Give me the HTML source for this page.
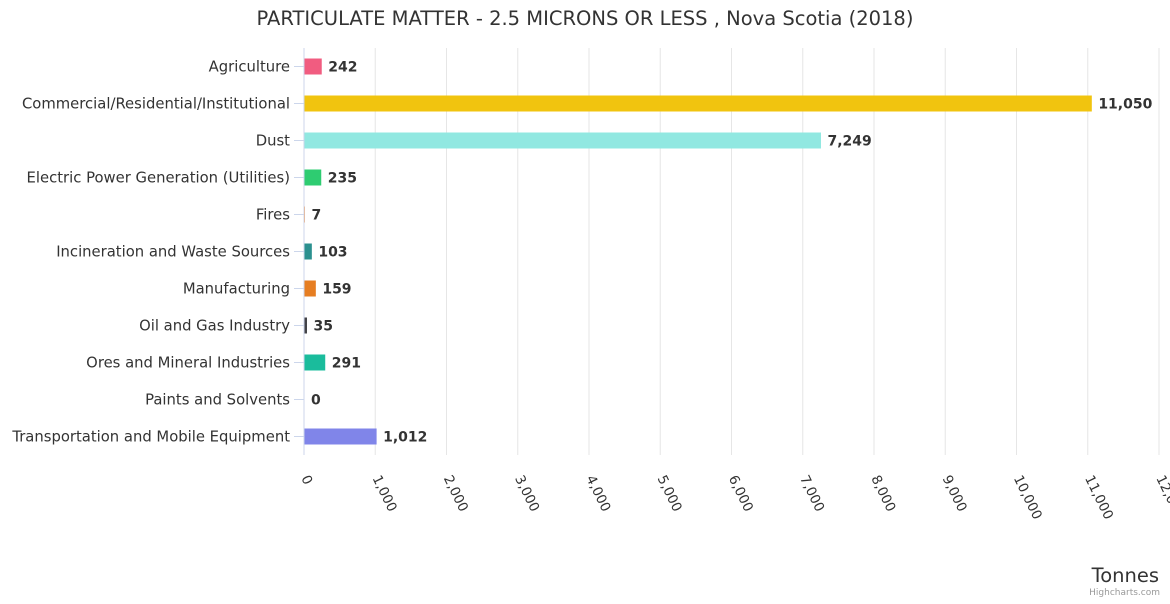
<!DOCTYPE html>
<html><head><meta charset="utf-8"><style>
body{margin:0;background:#fff;width:1170px;height:600px;overflow:hidden;font-family:"DejaVu Sans","Liberation Sans",sans-serif}
</style></head><body>
<svg id="chart" width="1170" height="600" xmlns="http://www.w3.org/2000/svg" font-family="DejaVu Sans, Liberation Sans, sans-serif">
<text x="585" y="25" text-anchor="middle" font-size="19.5" fill="#333">PARTICULATE MATTER - 2.5 MICRONS OR LESS , Nova Scotia (2018)</text>
<g id="grid"></g><g id="bars"></g><g id="labels"></g>
<text x="1159" y="582" text-anchor="end" font-size="19.5" fill="#333">Tonnes</text>
<text x="1160" y="595" text-anchor="end" font-size="9" fill="#999">Highcharts.com</text>
</svg>
<script>
const categories=["Agriculture","Commercial/Residential/Institutional","Dust","Electric Power Generation (Utilities)","Fires","Incineration and Waste Sources","Manufacturing","Oil and Gas Industry","Ores and Mineral Industries","Paints and Solvents","Transportation and Mobile Equipment"];
const values=[242,11050,7249,235,7,103,159,35,291,0,1012];
const colors=["#f15c80","#f1c40f","#91e8e1","#2ecc71","#f7a35c","#2b908f","#e67e22","#434348","#1abc9c","#90ed7d","#8085e9"];
const ticks=[0,1000,2000,3000,4000,5000,6000,7000,8000,9000,10000,11000,12000];
const NS="http://www.w3.org/2000/svg";
const plotX0=304,plotX1=1159,plotTop=48,plotBottom=455,xmax=12000;
const xs=v=>plotX0+(v/xmax)*(plotX1-plotX0);
const band=(plotBottom-plotTop)/categories.length;
const yc=i=>plotTop+band*(i+0.5);
const fmt=v=>v.toLocaleString("en-US");
function mk(tag,attrs,parent){const e=document.createElementNS(NS,tag);for(const k in attrs)e.setAttribute(k,attrs[k]);document.getElementById(parent).appendChild(e);return e;}
ticks.forEach(t=>{
 const x=xs(t);
 if(t>0){const l=mk("line",{x1:x,x2:x,y1:plotTop,y2:plotBottom,stroke:"#e6e6e6"},"grid");
 
 }
 const tx=mk("text",{x:x-3,y:478,"font-size":"13.5",fill:"#333",transform:`rotate(64 ${x-3} 478)`},"labels");
 tx.textContent=fmt(t);
 
 
});
const ax=mk("line",{x1:plotX0,x2:plotX0,y1:plotTop,y2:plotBottom,stroke:"#ccd6eb"},"grid");


categories.forEach((c,i)=>{
 const y=yc(i);
 const tk=mk("line",{x1:plotX0-10,x2:plotX0,y1:y,y2:y,stroke:"#ccd6eb"},"grid");
 
 
 const lb=mk("text",{x:plotX0-14,y:y+5,"text-anchor":"end","font-size":"14.8",fill:"#333"},"labels");
 lb.textContent=c;
 
 
 const w=Math.max(xs(values[i])-plotX0,0);
 const r=mk("rect",{x:plotX0+0.5,y:y-8,width:w,height:16,fill:colors[i]},"bars");
 
 
 const vl=mk("text",{x:plotX0+w+7,y:y+5,"font-size":"14","font-weight":"bold",fill:"#333"},"labels");
 vl.textContent=fmt(values[i]);
 
 
});
</script>
</body></html>
